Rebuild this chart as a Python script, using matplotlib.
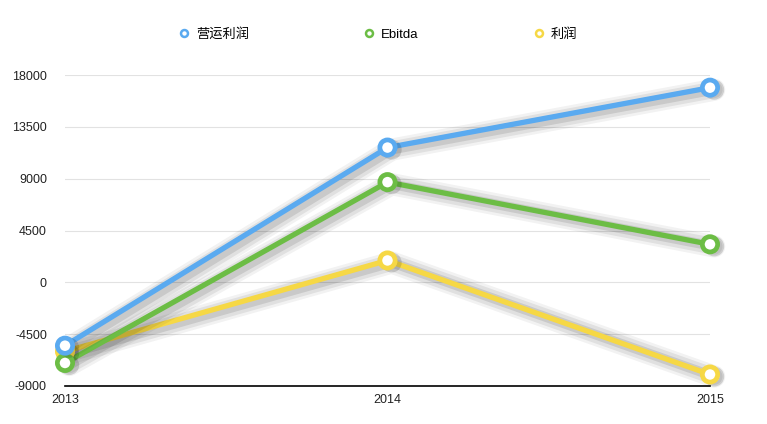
import matplotlib
matplotlib.use("Agg")
import matplotlib.pyplot as plt
import matplotlib.patheffects as pe
from matplotlib.lines import Line2D

plt.rcParams['font.family'] = ['Liberation Sans', 'Noto Sans CJK SC', 'DejaVu Sans']

years = ["2013", "2014", "2015"]
series_names = ["营运利润", "Ebitda", "利润"]
op_profit = [-5500, 11700, 16900]
ebitda = [-7000, 8700, 3300]
profit = [-6000, 1900, -8000]
yticks = [-9000, -4500, 0, 4500, 9000, 13500, 18000]
colors = ["#5aaaf0", "#6cbd45", "#f6d845"]

fig = plt.figure(figsize=(7.67, 4.24), dpi=100)
ax = fig.add_axes([65/767, 1-386/424, (710-65)/767, (386-75)/424])

x = list(range(len(years)))
shadow = [pe.SimpleLineShadow(offset=(3, -1.5), shadow_color='black', alpha=0.05, linewidth=16),
          pe.SimpleLineShadow(offset=(3, -1.5), shadow_color='black', alpha=0.07, linewidth=12),
          pe.SimpleLineShadow(offset=(3, -1.5), shadow_color='black', alpha=0.10, linewidth=7),
          pe.Normal()]
for vals, c in zip([profit, ebitda, op_profit], [colors[2], colors[1], colors[0]]):
    ax.plot(x, vals, color=c, lw=3.8, zorder=3, path_effects=shadow, clip_on=False,
            solid_capstyle='round')
    ax.plot(x, vals, ls='none', marker='o', markersize=11, markerfacecolor='white',
            markeredgecolor=c, markeredgewidth=3.4, zorder=4, clip_on=False,
            path_effects=[pe.SimpleLineShadow(offset=(3, -1.5), shadow_color='black', alpha=0.14),
                          pe.Normal()])

ax.set_xlim(0, 2)
ax.set_ylim(-9000, 18000)
ax.set_yticks(yticks)
ax.set_yticklabels([str(v) for v in yticks])
ax.set_xticks(x)
ax.set_xticklabels(years)
ax.grid(axis='y', color='#e2e2e2', lw=0.8)
ax.set_axisbelow(True)
for s in ['top', 'right', 'left']:
    ax.spines[s].set_visible(False)
ax.spines['bottom'].set_color('black')
ax.spines['bottom'].set_linewidth(1.2)
ax.tick_params(axis='both', length=0, labelsize=9, colors='#222222')
ax.tick_params(axis='y', pad=13)
ax.tick_params(axis='x', pad=6)

handles = [Line2D([], [], ls='none', marker='o', markersize=5, markerfacecolor='white',
                  markeredgecolor=c, markeredgewidth=1.8) for c in colors]
fig.legend(handles, series_names, loc='upper center', bbox_to_anchor=(0.492, 0.962), ncol=3,
           frameon=False, handlelength=1.0, handletextpad=0.4, columnspacing=8.6,
           prop={'size': 9.5})

fig.savefig("out.png", dpi=100)
